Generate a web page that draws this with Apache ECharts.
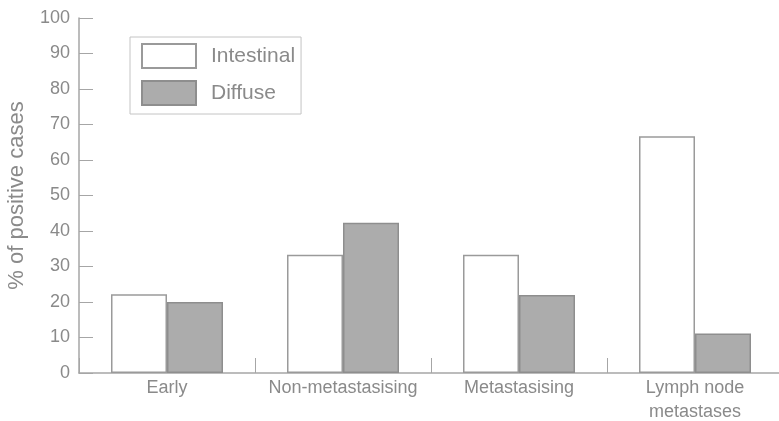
<!DOCTYPE html>
<html>
<head>
<meta charset="utf-8">
<script src="https://cdn.jsdelivr.net/npm/echarts@6/dist/echarts.min.js"></script>
<style>
html,body{margin:0;padding:0;background:#fff;}
#chart{width:779px;height:421px;}
</style>
</head>
<body>
<div id="chart"></div>
<script>
const categories = ['Early', 'Non-metastasising', 'Metastasising', 'Lymph node\nmetastases'];
const intestinal = [22.2, 33.3, 33.3, 66.7];
const diffuse = [20, 42.3, 22, 11.1];
const yTicks = [0, 10, 20, 30, 40, 50, 60, 70, 80, 90, 100];

const textColor = '#8a8a8a';
const lineColor = '#a6a6a6';
const font = 'Liberation Sans';

const chart = echarts.init(document.getElementById('chart'));
chart.setOption({
  animation: false,
  backgroundColor: '#ffffff',
  grid: { left: 79, top: 18, bottom: 48, width: 704, outerBoundsMode: 'none', containLabel: false },
  legend: {
    left: 130, top: 37,
    orient: 'vertical',
    itemWidth: 54, itemHeight: 24, itemGap: 11,
    padding: [6, 6, 8, 11],
    borderColor: '#c4c4c4', borderWidth: 1,
    icon: 'rect',
    textStyle: { color: textColor, fontSize: 21, fontFamily: font, width: 98, padding: [0, 0, 0, 10] },
    data: ['Intestinal', 'Diffuse']
  },
  xAxis: {
    type: 'category',
    data: categories,
    boundaryGap: true,
    axisLine: { lineStyle: { color: lineColor, width: 1.5 } },
    axisTick: { show: true, inside: true, length: 15, interval: 0, lineStyle: { color: lineColor, width: 1 } },
    axisLabel: { color: textColor, fontSize: 18, fontFamily: font, margin: 3, lineHeight: 24, interval: 0 }
  },
  yAxis: {
    type: 'value',
    min: yTicks[0], max: yTicks[yTicks.length - 1], interval: 10,
    name: '% of positive cases',
    nameLocation: 'middle',
    nameGap: 51,
    nameTextStyle: { color: textColor, fontSize: 22, fontFamily: font },
    axisLine: { show: true, lineStyle: { color: lineColor, width: 1.5 } },
    axisTick: { show: true, inside: true, length: 14, lineStyle: { color: lineColor } },
    axisLabel: { color: textColor, fontSize: 18, fontFamily: font, margin: 9 },
    splitLine: { show: false }
  },
  series: [
    {
      name: 'Intestinal', type: 'bar', data: intestinal,
      barWidth: 56, barGap: '0%', z: 3,
      itemStyle: { color: '#ffffff', borderColor: '#9a9a9a', borderWidth: 1.5 }
    },
    {
      name: 'Diffuse', type: 'bar', data: diffuse,
      barWidth: 56, barGap: '0%', z: 3,
      itemStyle: { color: '#acacac', borderColor: '#8e8e8e', borderWidth: 1.5 }
    }
  ]
});
</script>
</body>
</html>
